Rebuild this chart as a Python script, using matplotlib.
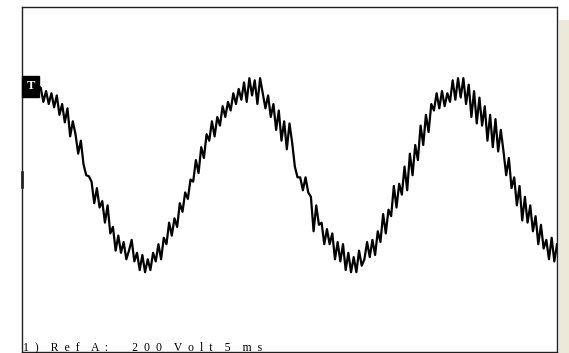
import numpy as np
import matplotlib.pyplot as plt
from matplotlib.patches import Rectangle

# scope trace, one sample every 0.25 ms
t_ms = np.arange(0, 50.01, 0.25)
volts = [
    430, 440, 425, 435, 430, 420, 435, 425,
    360, 410, 350, 400, 335, 390, 300, 350,
    265, 330, 200, 270, 210, 120, 180, 70,
    20, 15, -10, -110, -40, -130, -100, -200,
    -120, -250, -220, -330, -260, -340, -290, -370,
    -330, -280, -380, -340, -420, -350, -430, -370,
    -420, -340, -380, -300, -370, -270, -300, -200,
    -260, -180, -220, -110, -150, -60, -90, 0,
    -10, 90, 30, 150, 100, 210, 180, 270,
    200, 290, 250, 340, 290, 360, 320, 400,
    350, 420, 370, 450, 360, 470, 390, 460,
    350, 470, 400, 330, 390, 290, 350, 230,
    320, 180, 270, 140, 260, 170, 60, 10,
    10, -50, 10, -60, -80, -240, -120, -210,
    -200, -300, -230, -300, -250, -370, -290, -380,
    -300, -420, -340, -430, -360, -430, -330, -400,
    -370, -290, -360, -280, -350, -240, -290, -160,
    -250, -140, -170, -30, -130, -20, -70, 60,
    -50, 120, 20, 160, 90, 250, 160, 300,
    220, 350, 320, 400, 330, 410, 340, 400,
    360, 460, 370, 470, 380, 470, 350, 440,
    290, 410, 260, 380, 250, 340, 180, 300,
    150, 280, 130, 230, 130, 20, 100, -40,
    10, -120, -30, -190, -80, -200, -120, -240,
    -170, -300, -210, -320, -280, -370, -270, -380,
    -300,
]
caption = "1  )    R  e  f    A  :        2  0  0    V  o  l  t    5    m  s"

W, H = 569, 353
fig = plt.figure(figsize=(W / 100, H / 100), dpi=100)

# grey side panel on the right
fig.patches.append(Rectangle((559 / W, 0), 10 / W, 333 / H, transform=fig.transFigure,
                             facecolor='#ECE9D8', edgecolor='none'))

ax = fig.add_axes([22 / W, 1 / H, 535 / W, 345 / H])
ax.plot(t_ms, volts, color='black', lw=1.6)
ax.set_xlim(0, 50)
ax.set_ylim(-800, 800)
ax.set_xticks([])
ax.set_yticks([])
for s in ax.spines.values():
    s.set_linewidth(1.0)
    s.set_color('#202020')

# ground marker on the left edge
ax.plot([0, 0], [-35, 35], color='black', lw=1.8, clip_on=False)

# trigger marker
ax.text(0.4, 432, 'T', fontsize=9, family='Liberation Serif', fontweight='bold',
        color='white', ha='left', va='center',
        bbox=dict(boxstyle='square,pad=0.35', facecolor='black', edgecolor='black'))

fig.text(23 / W, 3 / H, caption, fontsize=8.5, family='Liberation Serif',
         ha='left', va='baseline', color='black')

fig.savefig('out.png', dpi=100)
